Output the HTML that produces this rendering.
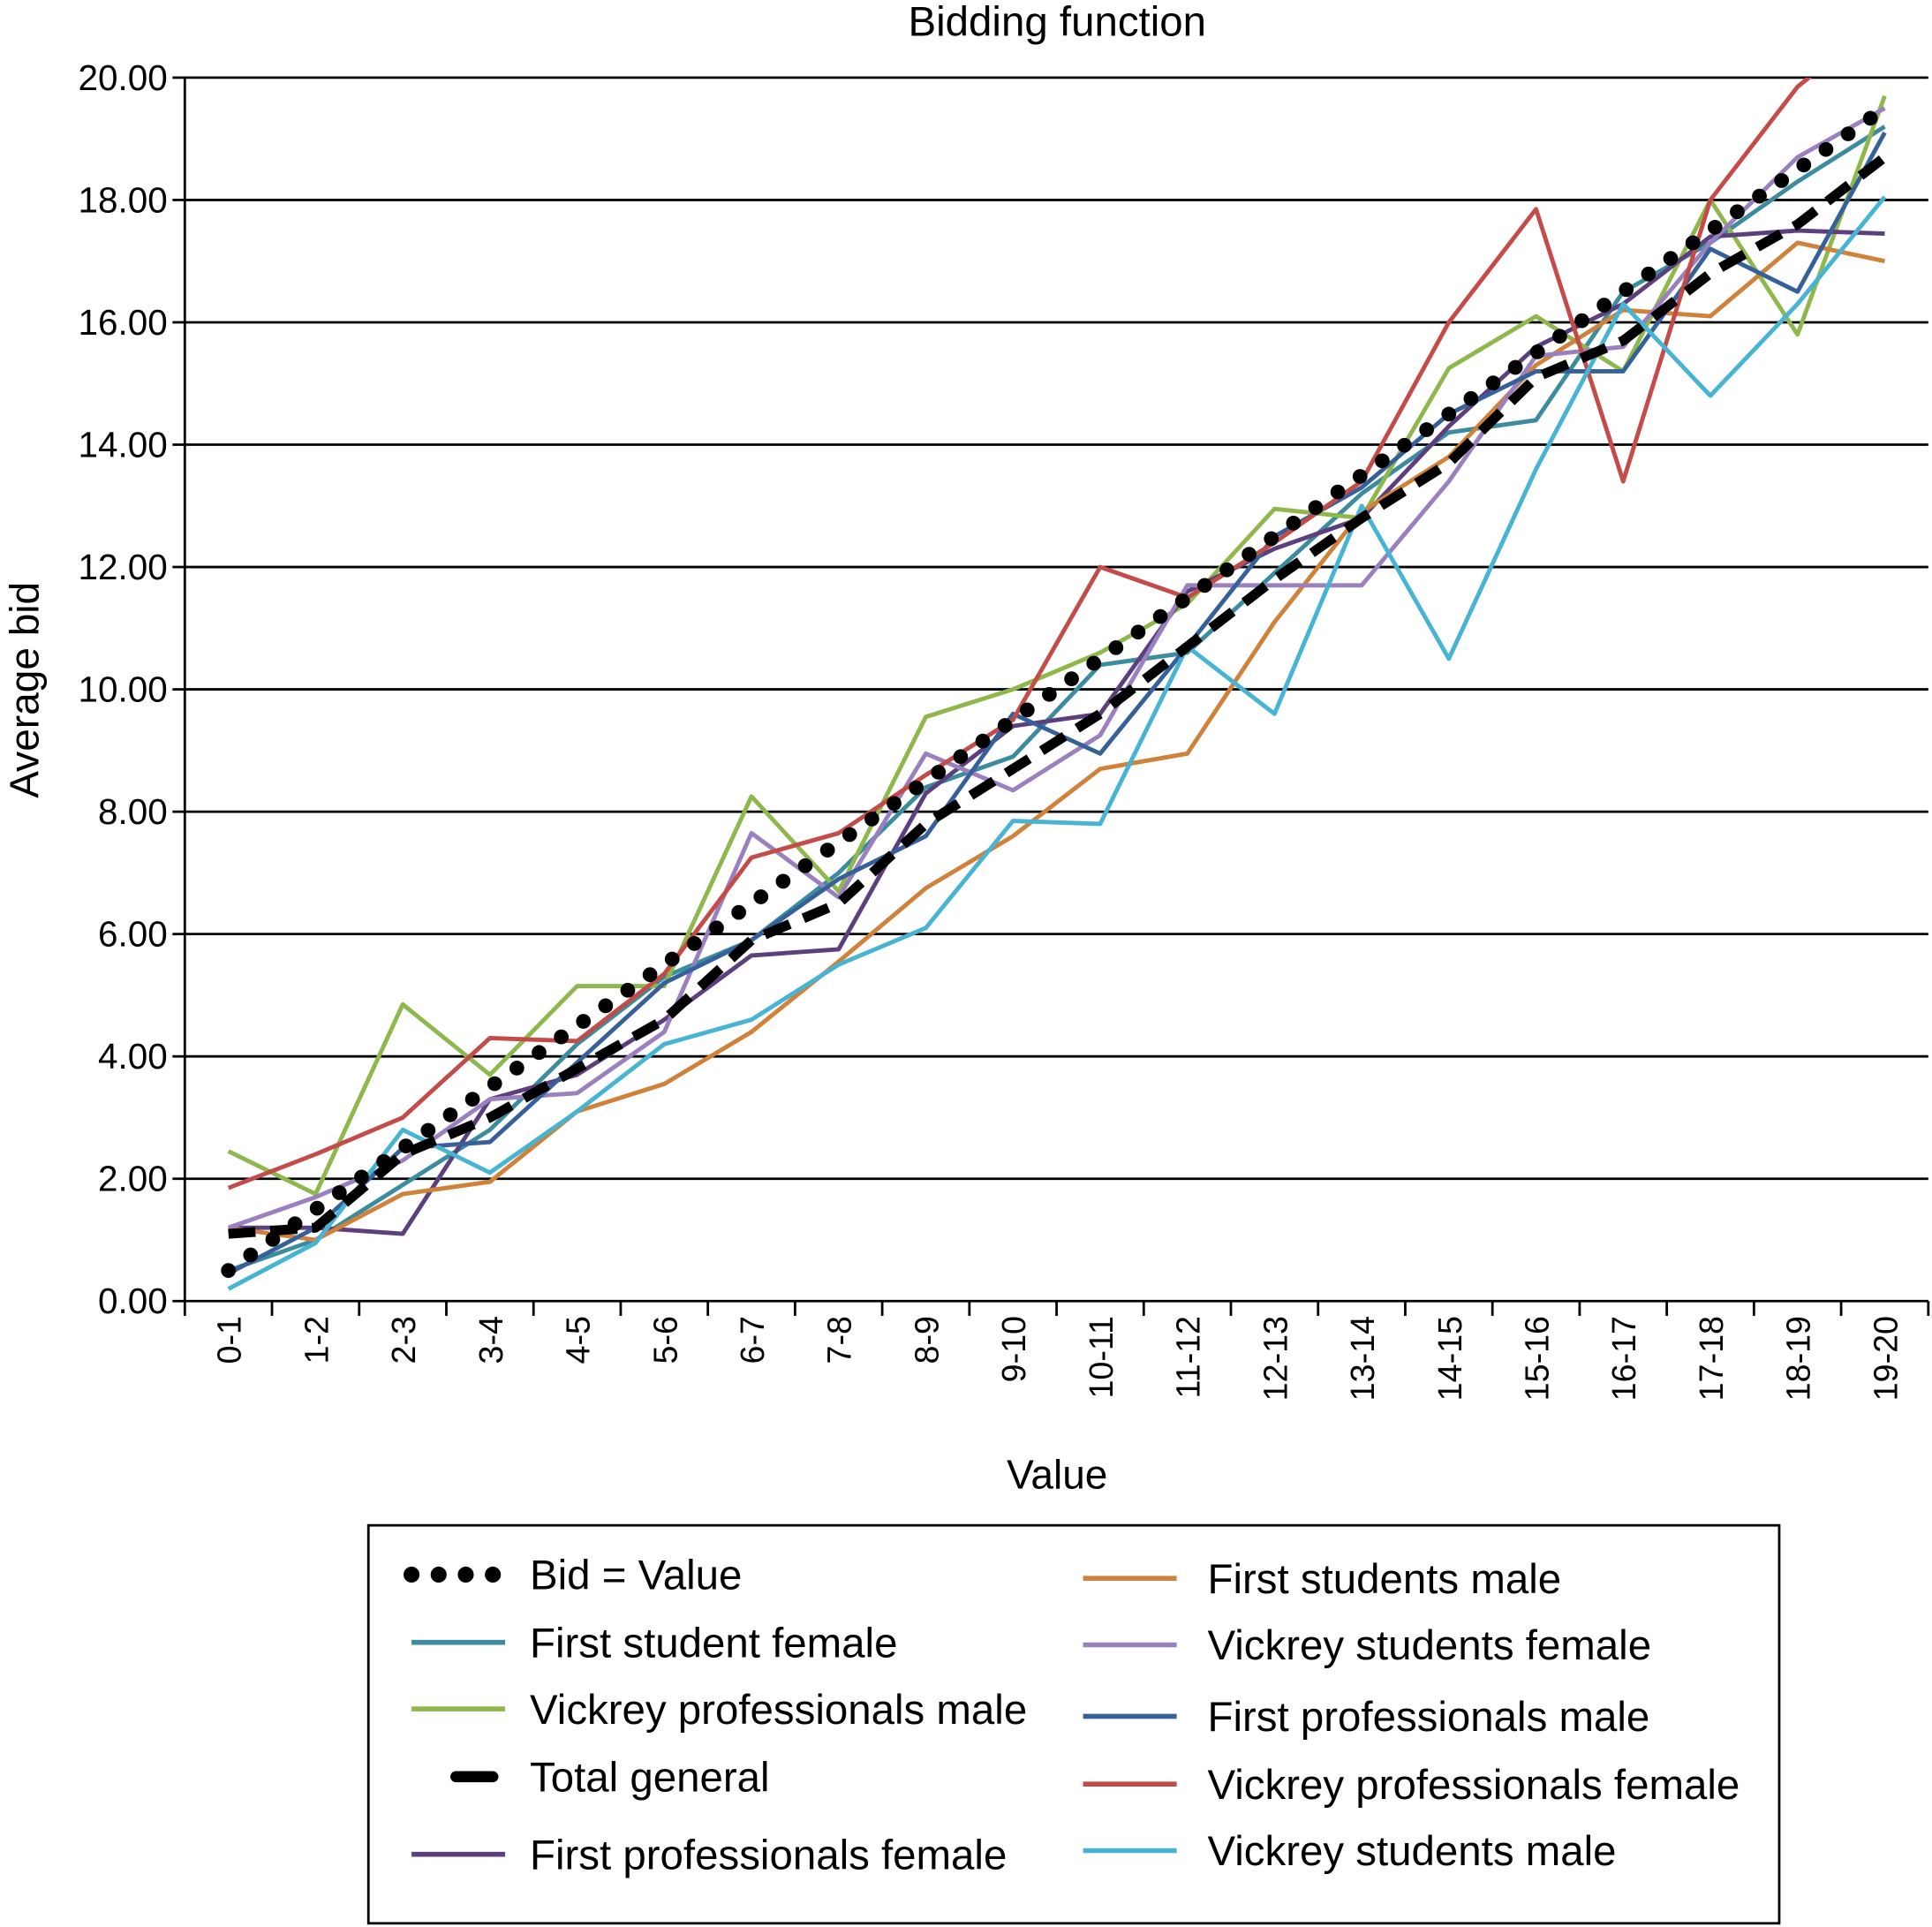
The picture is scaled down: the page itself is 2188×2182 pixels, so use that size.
<!DOCTYPE html>
<html><head><meta charset="utf-8"><style>
html,body{margin:0;padding:0;background:#fff;}
svg{display:block;font-family:"Liberation Sans",Arial,sans-serif;}
</style></head><body>
<svg id="chart" width="2188" height="2182" viewBox="0 0 1568 1564" preserveAspectRatio="none" xmlns="http://www.w3.org/2000/svg">
<defs><clipPath id="pc"><rect x="150" y="63" width="1415" height="994"/></clipPath></defs>
<text x="858" y="29" font-size="34" text-anchor="middle">Bidding function</text>
<text transform="translate(31,560) rotate(-90)" font-size="33" text-anchor="middle">Average bid</text>
<text x="858" y="1208" font-size="33" text-anchor="middle">Value</text>
<g id="grid"></g><g id="axes"></g><g id="series" clip-path="url(#pc)"></g>
<g id="legend">
<rect x="299" y="1238" width="1145" height="323" fill="none" stroke="#000" stroke-width="2"/>
</g>
</svg>
<script>
const categories=["0-1","1-2","2-3","3-4","4-5","5-6","6-7","7-8","8-9","9-10","10-11","11-12","12-13","13-14","14-15","15-16","16-17","17-18","18-19","19-20"];
const yTicks=[0,2,4,6,8,10,12,14,16,18,20];
const bidValue=[0.5,1.5,2.5,3.5,4.5,5.5,6.5,7.5,8.5,9.5,10.5,11.5,12.5,13.5,14.5,15.5,16.5,17.5,18.5,19.5];
const totalGeneral=[1.1,1.2,2.4,3.0,3.8,4.6,5.9,6.5,7.8,8.7,9.6,10.7,11.8,12.8,13.7,15.1,15.7,16.8,17.6,18.7];
const firstStudentFemale=[0.5,1.0,1.9,2.8,4.2,5.3,5.9,7.0,8.4,8.9,10.4,10.6,11.9,13.2,14.2,14.4,16.5,17.3,18.3,19.2];
const vickreyProMale=[2.45,1.75,4.85,3.7,5.15,5.15,8.25,6.7,9.55,10.0,10.6,11.4,12.95,12.8,15.25,16.1,15.2,18.0,15.8,19.7];
const firstProFemale=[1.2,1.2,1.1,3.3,3.7,4.6,5.65,5.75,8.3,9.4,9.6,11.6,12.3,12.8,14.3,15.6,16.3,17.4,17.5,17.45];
const firstStudentsMale=[1.2,1.0,1.75,1.95,3.1,3.55,4.4,5.55,6.75,7.6,8.7,8.95,11.1,12.9,13.8,15.3,16.2,16.1,17.3,17.0];
const vickreyStudentsFemale=[1.2,1.7,2.3,3.3,3.4,4.4,7.65,6.6,8.95,8.35,9.25,11.7,11.7,11.7,13.4,15.45,15.6,17.3,18.7,19.5];
const firstProMale=[0.45,1.2,2.5,2.6,3.9,5.2,5.9,6.9,7.6,9.6,8.95,10.7,12.5,13.3,14.5,15.2,15.2,17.2,16.5,19.1];
const vickreyProFemale=[1.85,2.4,3.0,4.3,4.25,5.35,7.25,7.65,8.6,9.5,12.0,11.5,12.4,13.4,16.0,17.85,13.4,18.0,19.85,21.0];
const vickreyStudentsMale=[0.2,0.95,2.8,2.1,3.1,4.2,4.6,5.5,6.1,7.85,7.8,10.7,9.6,13.0,10.5,13.6,16.3,14.8,16.3,18.05];

const NS="http://www.w3.org/2000/svg";
const L=150,R=1565,T=63,B=1056;
const step=(R-L)/categories.length;
const xs=i=>L+step*(i+0.5);
const ys=v=>B-(v/20)*(B-T);
function mk(tag,attrs,parent){const e=document.createElementNS(NS,tag);for(const k in attrs)e.setAttribute(k,attrs[k]);parent.appendChild(e);return e;}
const grid=document.getElementById('grid'),axes=document.getElementById('axes'),ser=document.getElementById('series'),leg=document.getElementById('legend');
yTicks.forEach(t=>{
 const y=ys(t);
 const g=mk('line',{x1:L,x2:R,y1:y,y2:y,stroke:'#000','stroke-width':2},grid);
 
 
 const tk=mk('line',{x1:L-10,x2:L,y1:y,y2:y,stroke:'#000','stroke-width':2},axes);
 
 
 const tx=mk('text',{x:L-14,y:y+10,'font-size':29,'text-anchor':'end'},axes);
 tx.textContent=t.toFixed(2);
 
 
});
const ya=mk('line',{x1:L,x2:L,y1:T,y2:B,stroke:'#000','stroke-width':2},axes);


for(let i=0;i<=categories.length;i++){
 const x=L+step*i;
 const tk=mk('line',{x1:x,x2:x,y1:B,y2:B+12,stroke:'#000','stroke-width':2},axes);
 
 
}
categories.forEach((c,i)=>{
 const x=xs(i);
 const tx=mk('text',{transform:`translate(${x+10},1068) rotate(-90)`,'font-size':27,'text-anchor':'end'},axes);
 tx.textContent=c;
 
 
});
const series=[
 {name:'first-student-female',label:'First student female',data:firstStudentFemale,color:'#3a8c9e',w:3.5},
 {name:'vickrey-professionals-male',label:'Vickrey professionals male',data:vickreyProMale,color:'#8fb84c',w:3.5},
 {name:'first-professionals-female',label:'First professionals female',data:firstProFemale,color:'#5c3f7c',w:3.5},
 {name:'first-students-male',label:'First students male',data:firstStudentsMale,color:'#d0813a',w:3.5},
 {name:'vickrey-students-female',label:'Vickrey students female',data:vickreyStudentsFemale,color:'#9b80c0',w:3.5},
 {name:'first-professionals-male',label:'First professionals male',data:firstProMale,color:'#36609a',w:3.5},
 {name:'vickrey-professionals-female',label:'Vickrey professionals female',data:vickreyProFemale,color:'#c44b48',w:3.5},
 {name:'vickrey-students-male',label:'Vickrey students male',data:vickreyStudentsMale,color:'#46b4d2',w:3.5},
 {name:'total-general',label:'Total general',data:totalGeneral,color:'#000',w:8,dash:'22 12'},
 {name:'bid-equals-value',label:'Bid = Value',data:bidValue,color:'#000',w:12,dash:'0 22',cap:'round'}
];
series.forEach(s=>{
 const p=mk('polyline',{points:s.data.map((v,i)=>xs(i)+','+ys(v)).join(' '),fill:'none',stroke:s.color,'stroke-width':s.w,'stroke-linejoin':'round'},ser);
 if(s.dash)p.setAttribute('stroke-dasharray',s.dash);
 if(s.cap)p.setAttribute('stroke-linecap',s.cap);
 
 
});
const legendItems=[
 ['bid-equals-value',330,1278],['first-student-female',330,1333],['vickrey-professionals-male',330,1387],['total-general',330,1442],['first-professionals-female',330,1505],
 ['first-students-male',875,1281],['vickrey-students-female',875,1335],['first-professionals-male',875,1393],['vickrey-professionals-female',875,1448],['vickrey-students-male',875,1502]
];
legendItems.forEach(([n,x,y],k)=>{
 const s=series.find(q=>q.name===n);
 const ln=mk('line',{x1:x+4,x2:x+80,y1:y,y2:y,stroke:s.color,'stroke-width':s.w===3.5?4:(s.w===8?9:13)},leg);
 if(s.dash)ln.setAttribute('stroke-dasharray',s.name==='total-general'?'30 0':'0 22');
 if(s.cap)ln.setAttribute('stroke-linecap','round');
 if(s.name==='total-general'){ln.setAttribute('x1',x+40);ln.setAttribute('x2',x+70);ln.setAttribute('stroke-linecap','round');}
 
 
 const t=mk('text',{x:x+(k<5?100:105),y:y+12,'font-size':34},leg);
 t.textContent=s.label;
 
 
});
</script>
</body></html>
